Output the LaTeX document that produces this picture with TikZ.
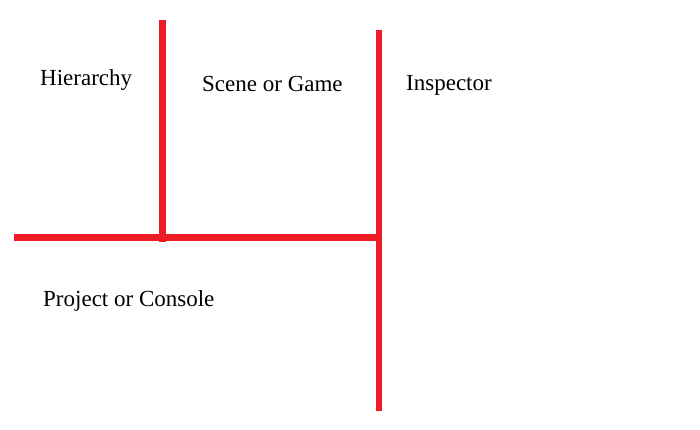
\documentclass[tikz,border=0pt]{standalone}
\usepackage{fontspec}
\setmainfont{Liberation Serif}
\definecolor{paintred}{RGB}{237,28,36}
\tikzset{
  redline/.style={draw=paintred, line width=6.3pt, line cap=butt},
  label/.style={anchor=base west, inner sep=0pt, font=\fontsize{23}{27}\selectfont}
}
\begin{document}
\begin{tikzpicture}[x=1pt,y=-1pt]
\useasboundingbox[fill=white] (0,0) rectangle (700,430);
% connector end points
\coordinate (v1top) at (162.5,20);
\coordinate (v1bot) at (162.5,241.5);
\coordinate (v2top) at (379,30);
\coordinate (v2bot) at (379,410.5);
\coordinate (hleft) at (14,237.5);
\coordinate (hright) at (376,237.5);
% lines
\draw[redline] (hleft) -- (hright);
\draw[redline] (v1top) -- (v1bot);
\draw[redline] (v2top) -- (v2bot);
% labels
\node[label] (hier) at (40,86) {Hierarchy};
\node[label] (scene) at (202,92) {Scene or Game};
\node[label] (insp) at (406,91) {Inspector};
\node[label] (proj) at (43,306) {Project or Console};
\end{tikzpicture}
\end{document}
